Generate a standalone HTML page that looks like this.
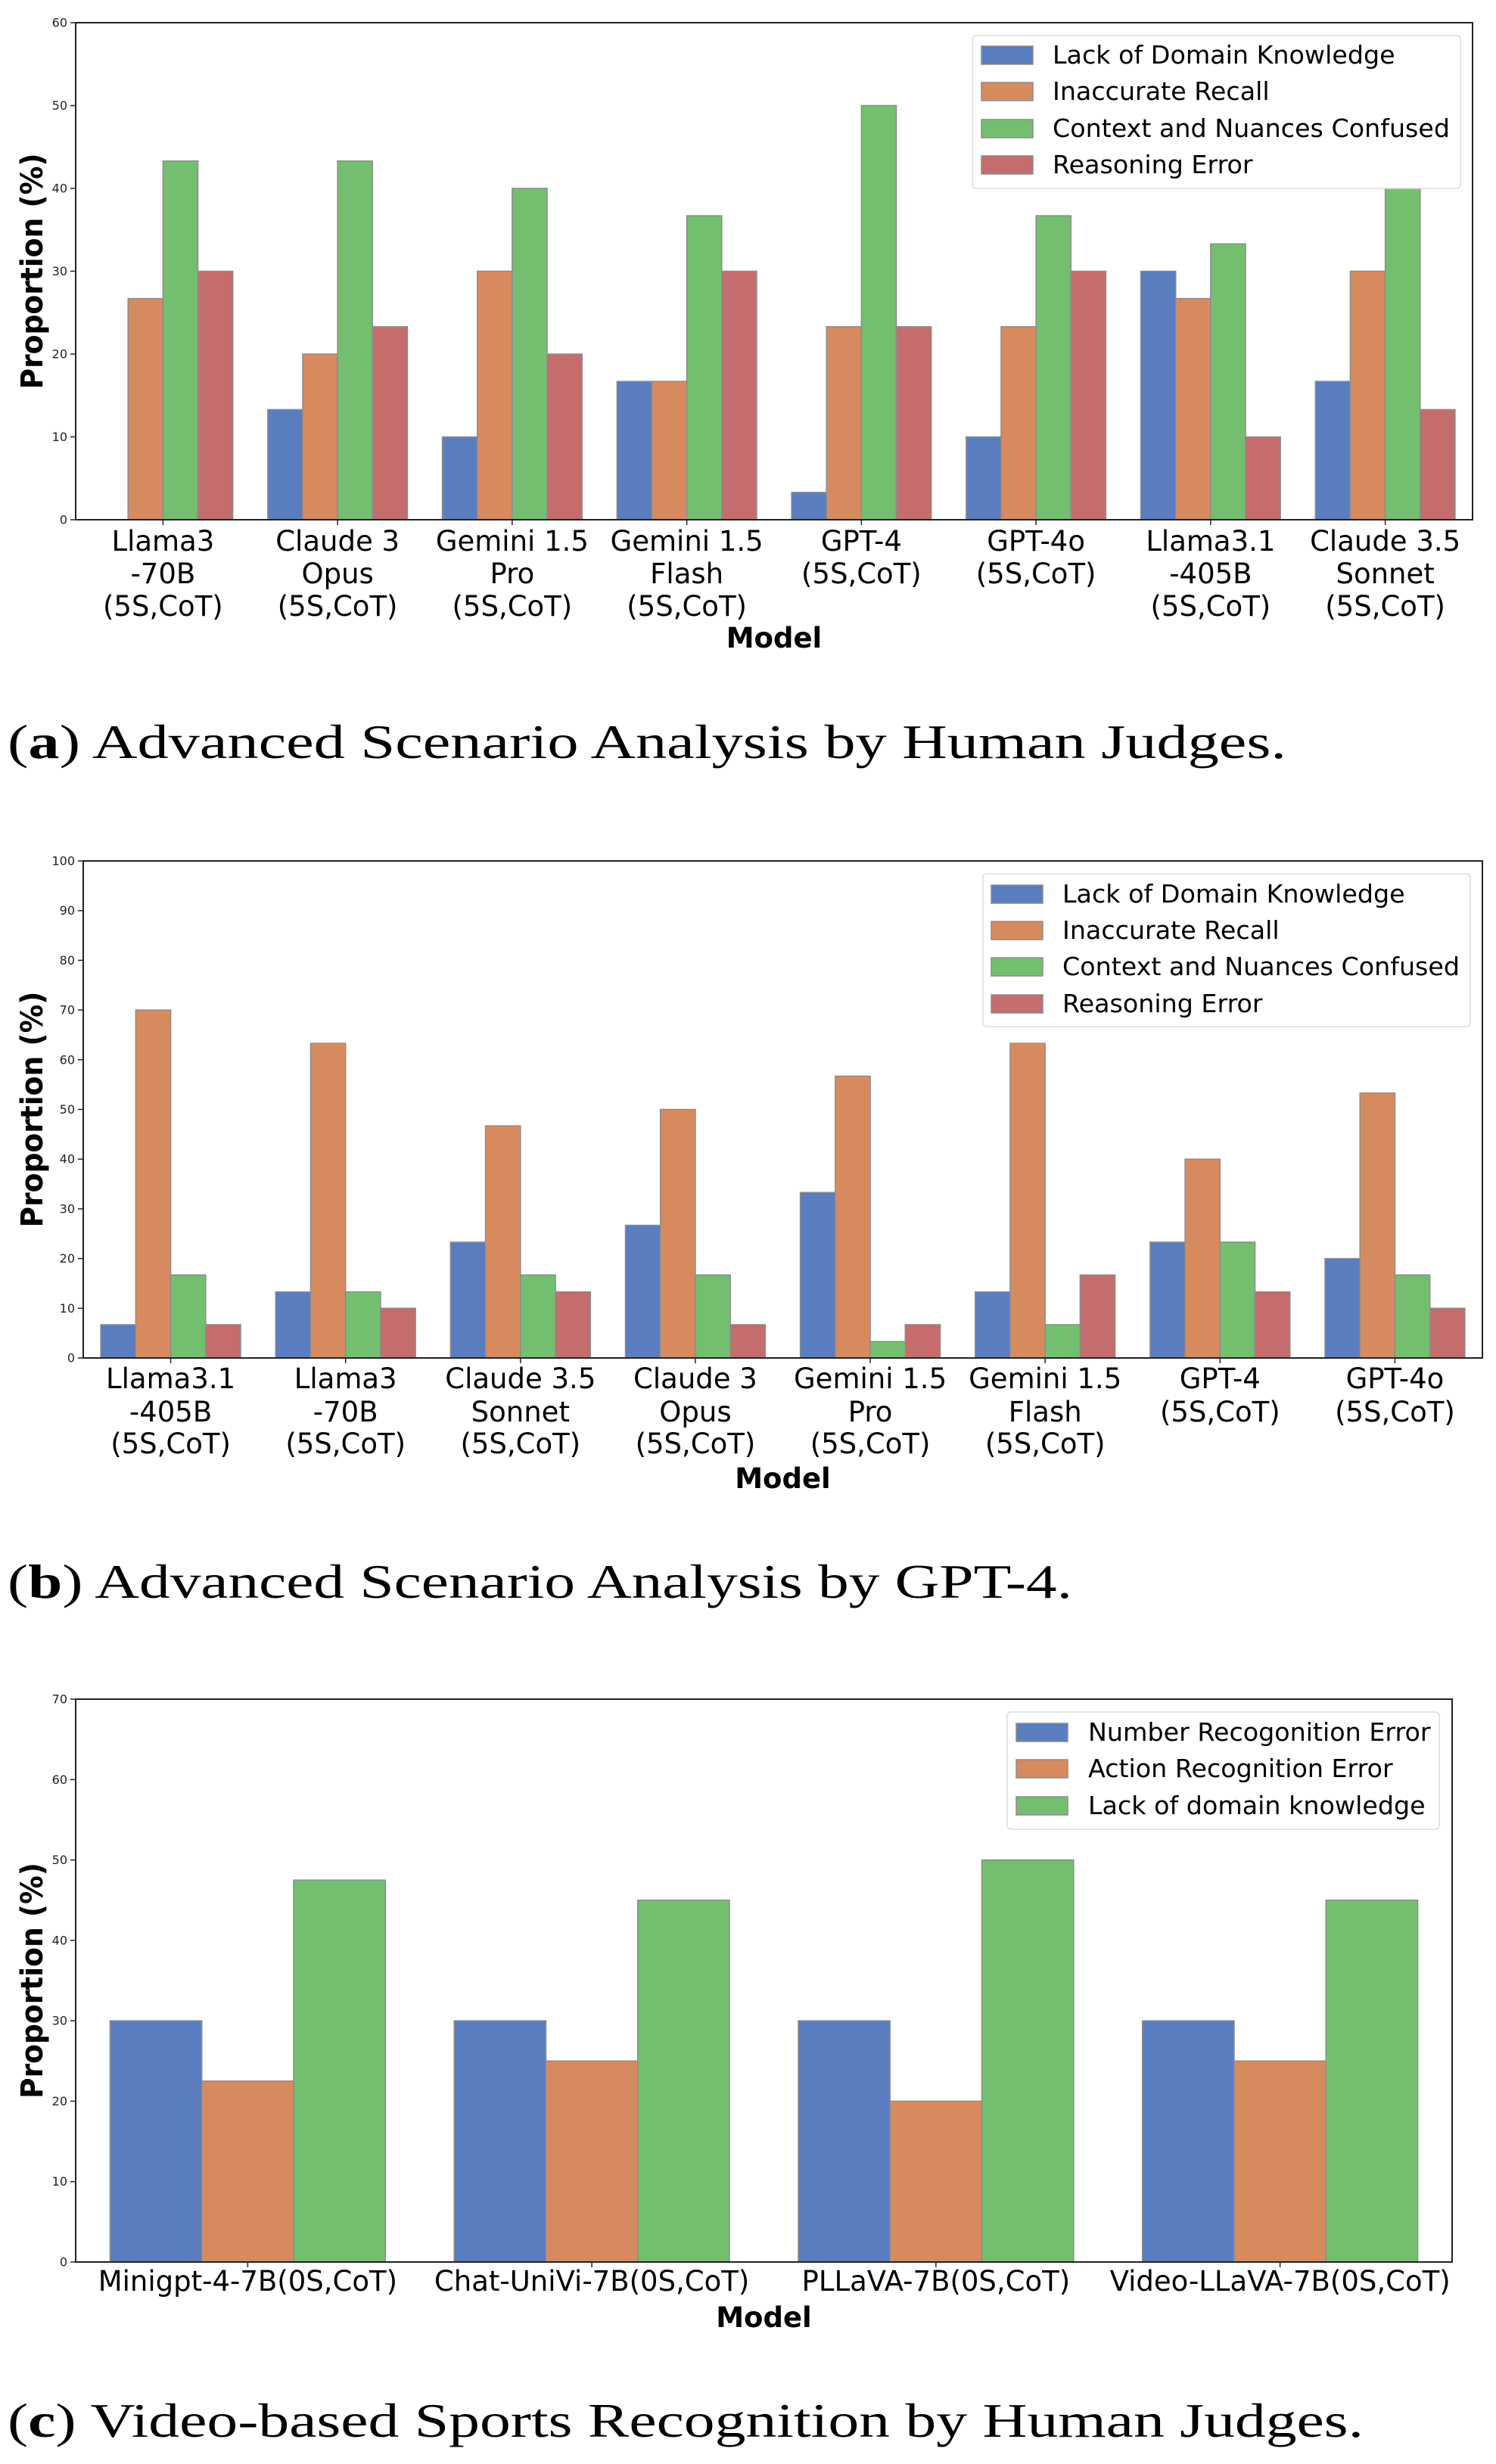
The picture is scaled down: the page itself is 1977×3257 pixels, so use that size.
<!DOCTYPE html>
<html>
<head>
<meta charset="utf-8">
<style>
  html,body{margin:0;padding:0;background:#fff;}
  svg{display:block;}
  text{font-family:"DejaVu Sans","Liberation Sans",sans-serif;}
  .cap{font-family:"Liberation Serif","DejaVu Serif",serif;}
</style>
</head>
<body>
<svg id="fig" width="1977" height="3257" viewBox="0 0 1977 3257" xmlns="http://www.w3.org/2000/svg">
  <text class="cap" x="10" y="1002" font-size="64" textLength="1690" lengthAdjust="spacingAndGlyphs">(<tspan font-weight="bold">a</tspan>) Advanced Scenario Analysis by Human Judges.</text>
  <text class="cap" x="10" y="2112" font-size="64" textLength="1407" lengthAdjust="spacingAndGlyphs">(<tspan font-weight="bold">b</tspan>) Advanced Scenario Analysis by GPT-4.</text>
  <text class="cap" x="10" y="3221" font-size="64" textLength="1792" lengthAdjust="spacingAndGlyphs">(<tspan font-weight="bold">c</tspan>) Video-based Sports Recognition by Human Judges.</text>
</svg>
<script>
// ---- Chart A data ----
const catsA = [["Llama3","-70B","(5S,CoT)"],["Claude 3","Opus","(5S,CoT)"],["Gemini 1.5","Pro","(5S,CoT)"],["Gemini 1.5","Flash","(5S,CoT)"],["GPT-4","(5S,CoT)"],["GPT-4o","(5S,CoT)"],["Llama3.1","-405B","(5S,CoT)"],["Claude 3.5","Sonnet","(5S,CoT)"]];
const lackA = [0, 13.3, 10, 16.7, 3.3, 10, 30, 16.7];
const recallA = [26.7, 20, 30, 16.7, 23.3, 23.3, 26.7, 30];
const contextA = [43.3, 43.3, 40, 36.7, 50, 36.7, 33.3, 40];
const reasonA = [30, 23.3, 20, 30, 23.3, 30, 10, 13.3];
const ticksA = [0,10,20,30,40,50,60];
const legendA = ["Lack of Domain Knowledge","Inaccurate Recall","Context and Nuances Confused","Reasoning Error"];

// ---- Chart B data ----
const catsB = [["Llama3.1","-405B","(5S,CoT)"],["Llama3","-70B","(5S,CoT)"],["Claude 3.5","Sonnet","(5S,CoT)"],["Claude 3","Opus","(5S,CoT)"],["Gemini 1.5","Pro","(5S,CoT)"],["Gemini 1.5","Flash","(5S,CoT)"],["GPT-4","(5S,CoT)"],["GPT-4o","(5S,CoT)"]];
const lackB = [6.7, 13.3, 23.3, 26.7, 33.3, 13.3, 23.3, 20];
const recallB = [70, 63.3, 46.7, 50, 56.7, 63.3, 40, 53.3];
const contextB = [16.7, 13.3, 16.7, 16.7, 3.3, 6.7, 23.3, 16.7];
const reasonB = [6.7, 10, 13.3, 6.7, 6.7, 16.7, 13.3, 10];
const ticksB = [0,10,20,30,40,50,60,70,80,90,100];
const legendB = ["Lack of Domain Knowledge","Inaccurate Recall","Context and Nuances Confused","Reasoning Error"];

// ---- Chart C data ----
const catsC = [["Minigpt-4-7B(0S,CoT)"],["Chat-UniVi-7B(0S,CoT)"],["PLLaVA-7B(0S,CoT)"],["Video-LLaVA-7B(0S,CoT)"]];
const numberC = [30, 30, 30, 30];
const actionC = [22.5, 25, 20, 25];
const domainC = [47.5, 45, 50, 45];
const ticksC = [0,10,20,30,40,50,60,70];
const legendC = ["Number Recogonition Error","Action Recognition Error","Lack of domain knowledge"];

const COLORS = ["#5a7dbf","#d88a5f","#74bf6f","#c46d6c"];
const NS = "http://www.w3.org/2000/svg";
const svg = document.getElementById('fig');

function mk(tag, attrs, parent){
  const e = document.createElementNS(NS, tag);
  for (const k in attrs) e.setAttribute(k, attrs[k]);
  (parent||svg).appendChild(e);
  return e;
}

function drawChart(id, box, cats, series, ticks, legendNames, leg, labelLines, modelY){
  const g = mk('g', {});
  
  
  const x0 = box.l, x1 = box.r, y0 = box.t, y1 = box.b;
  const ymax = ticks[ticks.length-1];
  const yS = v => y1 - (v / ymax) * (y1 - y0);
  const step = (x1 - x0) / cats.length;
  const xC = i => x0 + step * (i + 0.5);
  const bw = step * 0.8 / series.length;

  series.forEach((vals, s) => {
    vals.forEach((v, i) => {
      const bx = xC(i) - step*0.4 + s*bw;
      const r = mk('rect', {x: bx, y: yS(v), width: bw, height: Math.max(0, y1 - yS(v)), fill: COLORS[s], stroke: '#8c8c8c', 'stroke-width': 1.5}, g);
      
      
    });
  });

  const fr = mk('rect', {x: x0, y: y0, width: x1-x0, height: y1-y0, fill: 'none', stroke: '#222', 'stroke-width': 2}, g);
  
  

  ticks.forEach(t => {
    mk('line', {x1: x0-7, x2: x0, y1: yS(t), y2: yS(t), stroke: '#222', 'stroke-width': 1.5}, g);
    const tl = mk('text', {x: x0-11, y: yS(t)+5.5, 'font-size': 16, 'text-anchor': 'end', fill: '#222'}, g);
    tl.textContent = t;
    
    
  });

  cats.forEach((lines, i) => {
    mk('line', {x1: xC(i), x2: xC(i), y1: y1, y2: y1+7, stroke: '#222', 'stroke-width': 1.5}, g);
    lines.forEach((ln, j) => {
      const tx = mk('text', {x: xC(i), y: labelLines[j], 'font-size': 37, 'text-anchor': 'middle', fill: '#000'}, g);
      tx.textContent = ln;
      
      
    });
  });

  const mt = mk('text', {x: (x0+x1)/2, y: modelY, 'font-size': 37, 'font-weight': 'bold', 'text-anchor': 'middle', fill: '#000'}, g);
  mt.textContent = 'Model';
  
  
  const yc = (y0+y1)/2;
  const yt = mk('text', {x: 0, y: 0, 'font-size': 40, 'font-weight': 'bold', 'text-anchor': 'middle', transform: 'translate(56,' + yc + ') rotate(-90)', textLength: 312, lengthAdjust: 'spacingAndGlyphs', fill: '#000'}, g);
  yt.textContent = 'Proportion (%)';
  
  

  const lg = mk('g', {}, g);
  
  
  mk('rect', {x: leg.x, y: leg.y, width: leg.w, height: leg.h, rx: 5, fill: '#fff', 'fill-opacity': 0.9, stroke: '#ddd', 'stroke-width': 1.5}, lg);
  legendNames.forEach((nm, k) => {
    const cy = leg.rows[k];
    const p = mk('rect', {x: leg.px, y: cy-12, width: 68, height: 24, fill: COLORS[k], stroke: '#8c8c8c', 'stroke-width': 1.5}, lg);
    
    
    const t = mk('text', {x: leg.tx, y: cy+11, 'font-size': 33.3, fill: '#000'}, lg);
    t.textContent = nm;
    
    
  });
}

drawChart('chart-a', {l:100, r:1946, t:30, b:687}, catsA, [lackA, recallA, contextA, reasonA], ticksA, legendA,
  {x:1285, y:47, w:645, h:202, px:1297, tx:1391, rows:[73,121,170,218]}, [728,771,814], 856);
drawChart('chart-b', {l:110, r:1959, t:1138, b:1795}, catsB, [lackB, recallB, contextB, reasonB], ticksB, legendB,
  {x:1299, y:1155, w:644, h:202, px:1310, tx:1404, rows:[1182,1230,1278,1327]}, [1835,1879,1921], 1967);
drawChart('chart-c', {l:100, r:1919, t:2246, b:2990}, catsC, [numberC, actionC, domainC], ticksC, legendC,
  {x:1331, y:2263, w:571, h:155, px:1343, tx:1438, rows:[2290,2338,2387]}, [3028], 3076);
</script>
</body>
</html>
